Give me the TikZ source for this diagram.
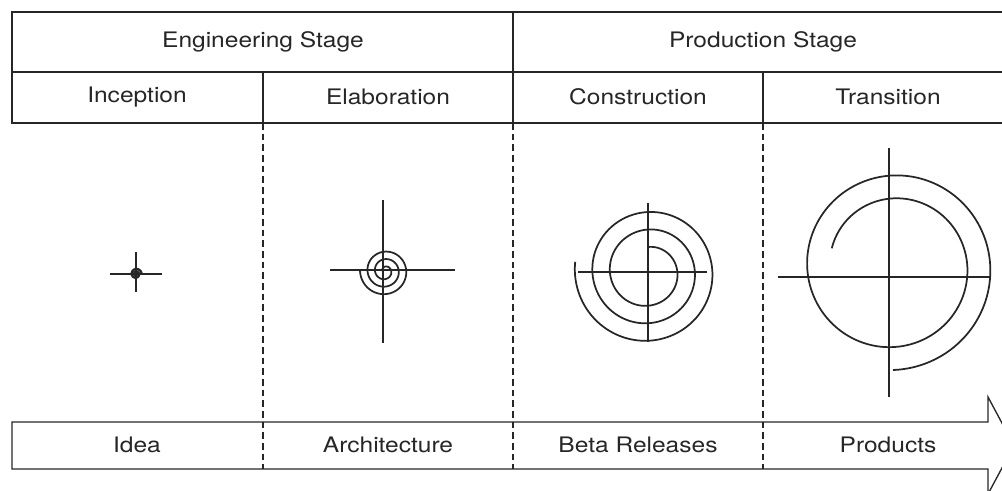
\documentclass[tikz,border=0pt]{standalone}
\usepackage{fontspec}
\setmainfont{TeX Gyre Heros}[FakeStretch=1.15]
\definecolor{ink}{HTML}{262626}
\begin{document}
\begin{tikzpicture}[x=0.75pt,y=-0.75pt,line width=1pt,draw=ink,
  lbl/.style={font=\fontsize{16}{19}\selectfont,text=ink},
  sep/.style={dash pattern=on 5pt off 3pt,line width=0.8pt},
  cross/.style={line width=0.9pt},
  spiral/.style={line width=1.3pt}]
\useasboundingbox (0,0) rectangle (1002,490);
% header table
\draw (12,12) rectangle (1013,123);
\draw (12,72) -- (1013,72);
\draw (513,12) -- (513,123);
\foreach \x in {263,763} {
  \draw (\x,72) -- (\x,123);
}
\node[lbl] (eng) at (263,42) {Engineering Stage};
\node[lbl] (prod) at (763,42) {Production Stage};
\foreach \t/\x [count=\i] in {Inception/137,Elaboration/388,Construction/638,Transition/888} {
  \node[lbl] (ph\i) at (\x,97) {\t};
}
% result arrow
\draw (12,422) -- (988,422) -- (988,397) -- (1014,445.5) -- (988,494)
  -- (988,469) -- (12,469) -- cycle;
\foreach \t/\x [count=\i] in {Idea/137,Architecture/388,Beta Releases/638,Products/888} {
  \node[lbl] (out\i) at (\x,445) {\t};
}
% phase separators
\foreach \x in {263,513,763} {
  \draw[sep] (\x,123) -- (\x,469);
}
% crosshairs
\draw[cross] (110,274) -- (162,274) (136,252) -- (136,292);
\draw[cross] (330,270) -- (455,270) (383,200) -- (383,343);
\draw[cross] (578,272) -- (707,272) (648,203) -- (648,342);
\draw[cross] (778,277) -- (990,277) (889,148) -- (889,397);
% spirals
\draw[line width=1.6pt,shift={(136,274)}]
  plot[domain=-720:0,samples=120,smooth] (\x:{0.5+2.6*(\x+720)/360});
\draw[spiral,shift={(385,271)}]
  plot[domain=-900:180,samples=250,smooth] (\x:{2.5+7.5*(\x+900)/360});
\draw[spiral,shift={(648,272)}]
  plot[domain=-90:908,samples=250,smooth] (\x:{25+(\x+90)/360*17.5});
\draw[spiral,shift={(893,267)}]
  plot[domain=197:810,samples=200,smooth] (\x:{64+(\x-197)/613*39});
\end{tikzpicture}
\end{document}
